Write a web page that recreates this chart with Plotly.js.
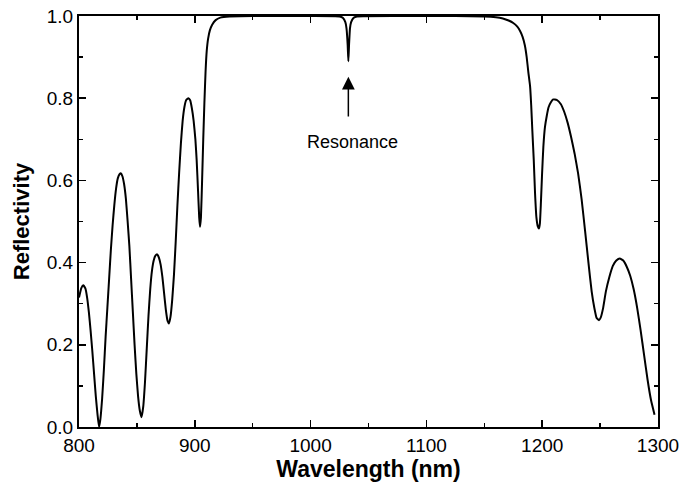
<!DOCTYPE html>
<html>
<head>
<meta charset="utf-8">
<script src="https://cdn.plot.ly/plotly-3.0.1.min.js"></script>
<style>html,body{margin:0;padding:0;background:#fff;overflow:hidden;}#chart{width:682px;height:484px;}</style>
</head>
<body>
<div id="chart"></div>
<script>
var wavelength = [800, 802, 803.7, 805.5, 807, 808.5, 810, 811.5, 813, 814.5, 816, 817.3, 818.5, 820, 821.5, 823, 824.5, 826, 827.5, 829, 830.5, 832, 833.5, 835, 836.3, 837.5, 839, 840.5, 842, 843.5, 845, 846.5, 848, 849.5, 851, 852.5, 854, 855.5, 857, 858.5, 860, 861.5, 863, 864.5, 866, 867.6, 869, 870.5, 872, 873.5, 875, 876.5, 877.7, 879, 880.5, 882, 883.5, 885, 886.5, 888, 889.5, 891, 892.5, 894.5, 896, 897.5, 899, 900.5, 901.6, 902.8, 903.8, 904.5, 905.3, 906.3, 907.3, 908.3, 909.3, 910.3, 911.5, 913, 915, 918, 922, 930, 950, 1000, 1025, 1028, 1030, 1031, 1032, 1032.6, 1033.2, 1034, 1035, 1037, 1040, 1100, 1150, 1160, 1166, 1171, 1175, 1178.5, 1181, 1183, 1185, 1186.6, 1188, 1189.5, 1190.5, 1191.5, 1192.7, 1193.8, 1195, 1196.2, 1197.2, 1198, 1198.8, 1199.8, 1201, 1202.4, 1204, 1205.5, 1207.5, 1209.5, 1212.5, 1216, 1219, 1222, 1225, 1228, 1231, 1234, 1237, 1240, 1242.7, 1245, 1247, 1249, 1250.5, 1252.5, 1255, 1258, 1261, 1264, 1267, 1270, 1273, 1276, 1279, 1282, 1285, 1288, 1291, 1294, 1297, 1300];
var reflectivity = [0.315, 0.338, 0.345, 0.337, 0.315, 0.28, 0.235, 0.185, 0.13, 0.075, 0.03, 0.0, 0.02, 0.07, 0.14, 0.22, 0.29, 0.36, 0.43, 0.49, 0.54, 0.58, 0.605, 0.615, 0.617, 0.61, 0.59, 0.555, 0.5, 0.44, 0.36, 0.28, 0.2, 0.13, 0.075, 0.04, 0.024, 0.05, 0.11, 0.19, 0.27, 0.335, 0.38, 0.405, 0.417, 0.42, 0.412, 0.395, 0.365, 0.325, 0.285, 0.258, 0.252, 0.268, 0.31, 0.37, 0.45, 0.54, 0.62, 0.69, 0.745, 0.778, 0.795, 0.8, 0.795, 0.775, 0.745, 0.7, 0.65, 0.575, 0.51, 0.487, 0.51, 0.6, 0.7, 0.79, 0.865, 0.915, 0.945, 0.965, 0.979, 0.99, 0.996, 0.999, 1.0, 1.0, 0.999, 0.995, 0.985, 0.97, 0.93, 0.89, 0.93, 0.97, 0.985, 0.995, 0.999, 1.0, 0.999, 0.997, 0.994, 0.989, 0.983, 0.974, 0.963, 0.95, 0.929, 0.9, 0.864, 0.83, 0.783, 0.72, 0.65, 0.57, 0.51, 0.488, 0.483, 0.495, 0.54, 0.61, 0.682, 0.73, 0.758, 0.778, 0.79, 0.797, 0.796, 0.786, 0.767, 0.74, 0.705, 0.665, 0.617, 0.555, 0.478, 0.398, 0.33, 0.29, 0.265, 0.26, 0.266, 0.288, 0.33, 0.365, 0.392, 0.405, 0.41, 0.405, 0.39, 0.368, 0.335, 0.29, 0.235, 0.175, 0.115, 0.065, 0.03];
var xTicks = [800, 900, 1000, 1100, 1200, 1300];
var yTicks = [0.0, 0.2, 0.4, 0.6, 0.8, 1.0];
var yTickLabels = ["0.0", "0.2", "0.4", "0.6", "0.8", "1.0"];
var resonanceLabel = "Resonance";
var resonanceX = 1032.6;
var arrowTipY = 0.852;
var arrowTailY = 0.752;

var font = "Liberation Sans, Arial, sans-serif";
var trace = {
  x: wavelength, y: reflectivity, type: 'scatter', mode: 'lines',
  line: {color: '#000', width: 2, shape: 'spline', smoothing: 0.4},
  hoverinfo: 'none'
};
var axisCommon = {
  showline: true, linecolor: '#000', linewidth: 2, mirror: 'allticks',
  ticks: 'inside', ticklen: 7, tickwidth: 1.5, tickcolor: '#000',
  showgrid: false, zeroline: false, automargin: false,
  tickfont: {family: font, size: 19, color: '#000'}
};
var layout = {
  width: 682, height: 484, autosize: false,
  margin: {l: 79, r: 24, t: 16, b: 57, pad: 0, autoexpand: false},
  paper_bgcolor: '#fff', plot_bgcolor: '#fff',
  showlegend: false,
  xaxis: Object.assign({}, axisCommon, {
    range: [800, 1300], tickmode: 'array', tickvals: xTicks,
    ticktext: xTicks.map(String),
    minor: {dtick: 50, ticklen: 4, tickwidth: 1.5, tickcolor: '#000', ticks: 'inside'},
    title: {text: 'Wavelength (nm)', font: {family: font, size: 23, color: '#000', weight: 'bold'}, standoff: 3}
  }),
  yaxis: Object.assign({}, axisCommon, {
    range: [0, 1], tickmode: 'array', tickvals: yTicks, ticktext: yTickLabels,
    minor: {dtick: 0.1, ticklen: 4, tickwidth: 1.5, tickcolor: '#000', ticks: 'inside'},
    title: {text: 'Reflectivity', font: {family: font, size: 22, color: '#000', weight: 'bold'}, standoff: 11}
  }),
  annotations: [
    {x: resonanceX, y: arrowTipY, ax: resonanceX, ay: arrowTailY, axref: 'x', ayref: 'y',
     xref: 'x', yref: 'y', showarrow: true, arrowhead: 2, arrowsize: 1.7, arrowwidth: 1.5,
     arrowcolor: '#000', standoff: 0, text: ''},
    {x: 1036.5, y: 0.694, xref: 'x', yref: 'y', showarrow: false, text: resonanceLabel,
     font: {family: font, size: 18, color: '#000'}, xanchor: 'center', yanchor: 'middle'}
  ]
};
Plotly.newPlot('chart', [trace], layout, {displayModeBar: false, staticPlot: true});
</script>
</body>
</html>
